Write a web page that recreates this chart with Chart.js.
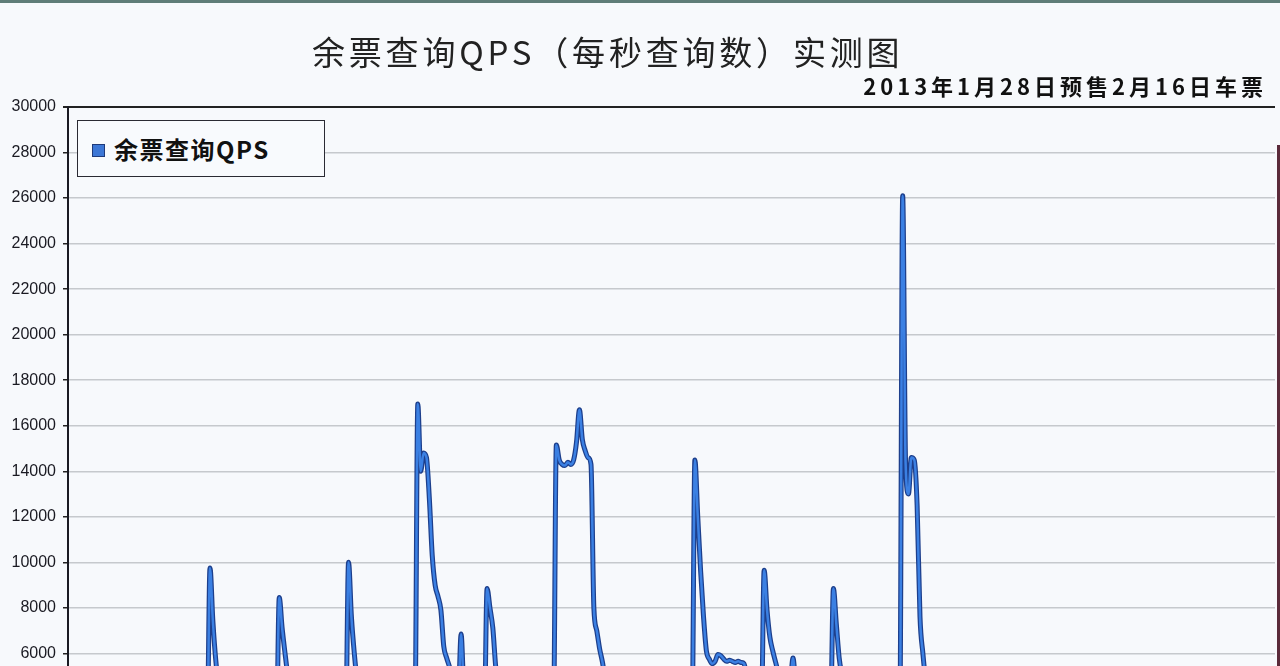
<!DOCTYPE html>
<html>
<head>
<meta charset="utf-8">
<script src="https://cdn.jsdelivr.net/npm/chart.js@4"></script>
<style>
    body { margin: 0; overflow: hidden; background: #f7f9fc; }
    #wrap { position: relative; width: 1280px; height: 666px; overflow: hidden; background: #f7f9fc; }
    #chart { position: absolute; left: 0; top: 0; }
    #title {
        position: absolute; left: 312px; top: 27px; white-space: nowrap;
        font-family: "Noto Sans CJK SC", sans-serif; font-size: 33px; letter-spacing: 3.8px; color: #222;
    }
    #subtitle {
        position: absolute; right: 13px; top: 69px; white-space: nowrap;
        font-family: "Noto Sans CJK SC", sans-serif; font-weight: bold; font-size: 22px; letter-spacing: 4px; color: #111;
    }
    #legend {
        position: absolute; left: 77px; top: 120px; width: 246px; height: 55px;
        border: 1.5px solid #2a2a33; background: #f8fafd;
        font-family: "Noto Sans CJK SC", sans-serif; font-weight: bold; font-size: 24px; letter-spacing: 1.5px; color: #111;
        line-height: 55px; white-space: nowrap;
    }
    #legend .mark {
        display: inline-block; width: 11px; height: 11px; margin: 0 9px 0 14px; vertical-align: 2px;
        background: #3d77d6; border: 1px solid #1f3a7a;
    }
    #topbar { position: absolute; left: 0; top: 0; width: 1280px; height: 3px; background: #5f7d78; }
    #rightbar { position: absolute; left: 1277px; top: 145px; width: 3px; height: 530px; background: #5a2a3a; }
</style>
</head>
<body>
<div id="wrap">
    <canvas id="chart" width="1280" height="810"></canvas>
    <div id="title">余票查询QPS（每秒查询数）实测图</div>
    <div id="subtitle">2013年1月28日预售2月16日车票</div>
    <div id="legend"><span class="mark"></span>余票查询QPS</div>
    <div id="topbar"></div>
    <div id="rightbar"></div>
</div>
<script>
const seriesName = '余票查询QPS';

// QPS por hora, uma linha por dia (24 valores)
const qps = [
    2100, 1800, 1600, 1400, 1300, 1400, 1700, 2200, 2700, 3100, 3300, 3400, 3500, 3400, 3300, 3200, 3300, 3400, 3200, 3000, 2800, 2600, 2400, 2200,
    2300, 2600, 2200, 1900, 1700, 1600, 1800, 2200, 2700, 3100, 3300, 3400, 3500, 3400, 3300, 3200, 3300, 3400, 3200, 3000, 2800, 2600, 2400, 2300,
    2500, 9750, 7400, 5700, 4600, 4000, 3700, 3500, 3500, 3600, 3700, 3600, 3500, 3400, 3300, 3400, 3500, 3300, 3100, 2900, 2700, 2500, 2400, 2300,
    2500, 8450, 7100, 6000, 5000, 4300, 3900, 3600, 3500, 3600, 3700, 3600, 3500, 3400, 3300, 3400, 3500, 3300, 3100, 2900, 2700, 2500, 2400, 2300,
    2600, 10000, 7600, 6000, 4800, 4200, 3900, 3700, 3600, 3700, 3800, 3700, 3600, 3500, 3400, 3500, 3600, 3400, 3200, 3000, 2800, 2600, 2500, 2400,
    2800, 16950, 14000, 14800, 14600, 12800, 10300, 9000, 8500, 7900, 6300, 5800, 5400, 4900, 4400, 4000, 6850, 4300, 3900, 3500, 3200, 2900, 2700, 2500,
    2700, 8850, 8000, 7100, 5400, 4500, 3900, 3700, 3600, 3700, 3800, 3700, 3600, 3500, 3400, 3500, 3600, 3400, 3200, 3000, 2800, 2600, 2500, 2400,
    2800, 15150, 14500, 14300, 14250, 14400, 14300, 14500, 15300, 16700, 15400, 14900, 14600, 14300, 8000, 7000, 6200, 5600, 4800, 4300, 3900, 3500, 3100, 2800,
    2600, 3400, 3200, 3000, 3100, 3300, 3500, 3600, 3700, 3800, 3700, 3600, 3500, 3400, 3500, 3600, 3400, 3200, 3000, 2800, 2600, 2500, 2400, 2300,
    2600, 14500, 12000, 9600, 7600, 6100, 5750, 5550, 5650, 5950, 5900, 5750, 5650, 5700, 5650, 5600, 5650, 5600, 5550, 5000, 4500, 4000, 3500, 3000,
    3000, 9650, 7900, 6700, 6100, 5600, 5100, 4600, 4300, 4200, 4500, 5800, 4500, 4000, 3800, 3700, 3600, 3500, 3400, 3200, 3000, 2800, 2600, 2500,
    3000, 8850, 7300, 5800, 5000, 4200, 3700, 3600, 3700, 3800, 3700, 3600, 3500, 3400, 3500, 3600, 3400, 3200, 3000, 2800, 2600, 2500, 2400, 2300,
    2700, 26100, 14400, 13000, 14600, 14500, 12500, 7600, 6000, 4800, 4200, 3900, 3700, 3600, 3500, 3400, 3300, 3200, 3100, 3000, 2800, 2600, 2500, 2400
];

const yMin = 0;
const yMax = 30000;
const yStep = 2000;

const points = qps.map((v, i) => ({ x: i, y: v }));

const ctx = document.getElementById('chart');
const chart = new Chart(ctx, {
    type: 'line',
    data: {
        datasets: [
            {
                label: seriesName,
                data: points,
                borderColor: '#3b80e3',
                borderWidth: 2.5,
                pointRadius: 0,
                cubicInterpolationMode: 'monotone',
                order: 1
            },
            {
                label: seriesName + ' borda',
                data: points,
                borderColor: '#1d3f8c',
                borderWidth: 5,
                pointRadius: 0,
                cubicInterpolationMode: 'monotone',
                order: 2
            }
        ]
    },
    options: {
        responsive: false,
        animation: false,
        layout: { padding: { top: 107, right: 5, bottom: 20, left: 0 } },
        plugins: {
            legend: { display: false },
            title: { display: false },
            tooltip: { enabled: false }
        },
        scales: {
            x: { type: 'linear', display: false, min: -0.2, max: 418 },
            y: {
                min: yMin,
                max: yMax,
                ticks: {
                    stepSize: yStep,
                    color: '#1a1a22',
                    padding: 7,
                    font: { size: 16, family: 'Liberation Sans' },
                    callback: (v) => String(v)
                },
                grid: {
                    color: (c) => c.tick && c.tick.value === yMax ? '#222' : '#c6c9cd',
                    lineWidth: (c) => c.tick && c.tick.value === yMax ? 2 : 1.5,
                    tickColor: '#222',
                    tickLength: 5
                },
                border: { color: '#1a1a22', width: 2 },
                afterFit: (scale) => { scale.width = 68; }
            }
        }
    }
});
</script>
</body>
</html>
